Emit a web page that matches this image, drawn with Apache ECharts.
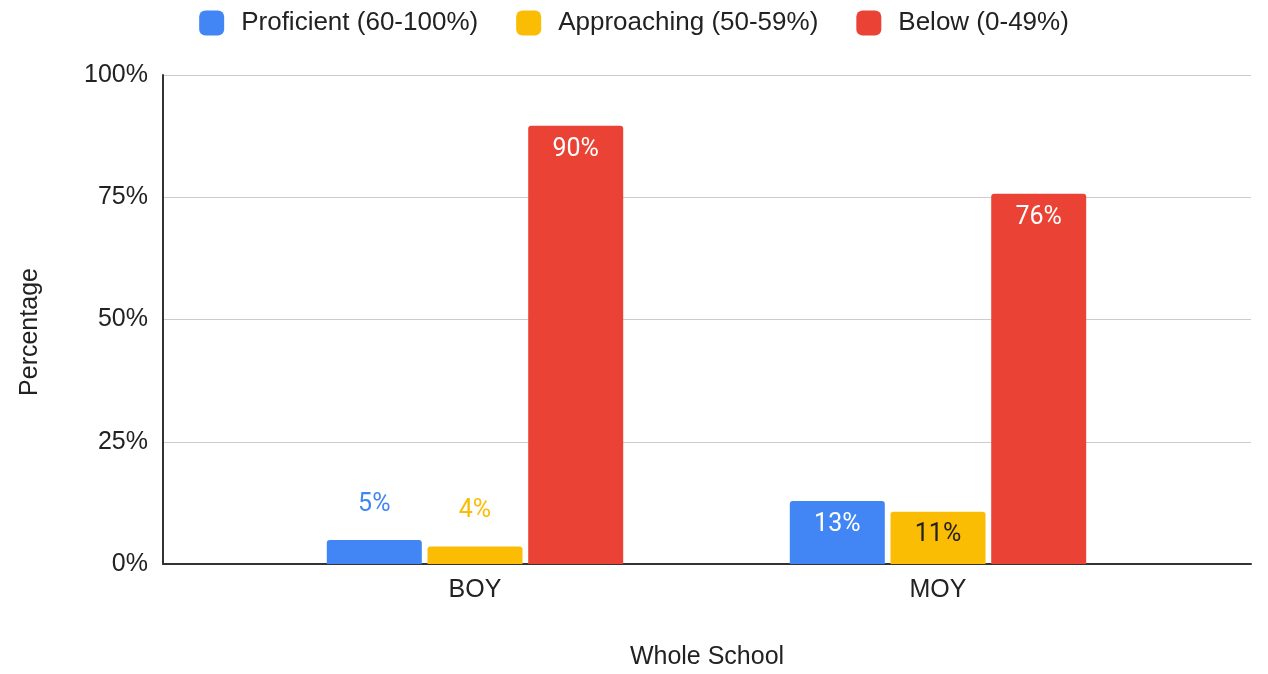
<!DOCTYPE html>
<html>
<head>
<meta charset="utf-8">
<script src="https://cdn.jsdelivr.net/npm/echarts@6/dist/echarts.min.js"></script>
<style>
    html, body { margin: 0; padding: 0; background: #fff; }
    #chart { width: 1268px; height: 674px; }
</style>
</head>
<body>
<div id="chart"></div>
<script>
    // 数据
    const categories = ['BOY', 'MOY'];
    const seriesNames = ['Proficient (60-100%)', 'Approaching (50-59%)', 'Below (0-49%)'];
    const proficient = [4.9, 12.9];
    const approaching = [3.6, 10.7];
    const below = [89.6, 75.7];
    const yTicks = [0, 25, 50, 75, 100];

    const colors = ['#4285F4', '#FBBC04', '#EA4335'];
    const insideColors = ['#ffffff', '#222222', '#ffffff'];
    const textFont = "'Liberation Sans', Arial, sans-serif";

    const myChart = echarts.init(document.getElementById('chart'));

    // 每个柱子的标签: 放不下时放在顶部
    function createBarData(values, idx) {
        return values.map((value) => {
            const outside = value < 8;
            return {
                value,
                label: {
                    position: outside ? 'top' : 'insideTop',
                    distance: outside ? 23 : 11,
                    color: outside ? colors[idx] : insideColors[idx],
                },
            };
        });
    }

    const allValues = [proficient, approaching, below];

    const series = allValues.map((values, idx) => {
        return {
            name: seriesNames[idx],
            type: 'bar',
            xAxisIndex: 1,
            yAxisIndex: 1,
            barWidth: 95,
            barGap: '6%',
            itemStyle: {
                color: colors[idx],
                borderRadius: [3, 3, 0, 0],
            },
            label: {
                show: true,
                fontFamily: 'Roboto',
                fontSize: 25,
                formatter: (p) => Math.round(p.value) + '%',
            },
            data: createBarData(values, idx),
        };
    });

    const option = {
        animation: false,
        color: colors,
        legend: {
            top: 5,
            left: 'center',
            itemWidth: 25,
            itemHeight: 25,
            itemGap: 38,
            icon: 'roundRect',
            textStyle: {
                fontFamily: textFont,
                fontSize: 26,
                color: '#222',
                padding: [0, 0, 0, 12],
            },
            data: seriesNames,
        },
        grid: [
            // 外框 + 分割线
            { left: 163, right: 17, top: 75, bottom: 110, outerBoundsMode: 'none' },
            // 柱子
            { left: 243.5, right: 98.5, top: 75, bottom: 110, outerBoundsMode: 'none' },
        ],
        xAxis: [
            {
                type: 'value',
                gridIndex: 0,
                min: 0,
                max: 1,
                name: 'Whole School',
                nameLocation: 'middle',
                nameGap: 81,
                nameTextStyle: {
                    fontFamily: textFont,
                    fontSize: 25,
                    color: '#222',
                },
                axisLine: { show: true, lineStyle: { color: '#333', width: 2 } },
                axisTick: { show: false },
                axisLabel: { show: false },
                splitLine: { show: false },
            },
            {
                type: 'category',
                gridIndex: 1,
                data: categories,
                axisLine: { show: false },
                axisTick: { show: false },
                axisLabel: {
                    margin: 14,
                    fontFamily: textFont,
                    fontSize: 25,
                    color: '#222',
                },
            },
        ],
        yAxis: [
            {
                type: 'value',
                gridIndex: 0,
                min: 0,
                max: 100,
                interval: 25,
                name: 'Percentage',
                nameLocation: 'middle',
                nameGap: 120,
                nameTextStyle: {
                    fontFamily: textFont,
                    fontSize: 25,
                    color: '#222',
                    padding: [0, 25, 0, 0],
                },
                axisLine: { show: true, lineStyle: { color: '#333', width: 2 } },
                axisTick: { show: false },
                axisLabel: {
                    margin: 15,
                    fontFamily: textFont,
                    fontSize: 25,
                    color: '#222',
                    formatter: (v) => yTicks.includes(v) ? v + '%' : '',
                },
                splitLine: { show: true, lineStyle: { color: '#cccccc', width: 1 } },
            },
            {
                type: 'value',
                gridIndex: 1,
                min: 0,
                max: 100,
                interval: 25,
                show: false,
            },
        ],
        series: series,
    };

    myChart.setOption(option);
</script>
</body>
</html>
